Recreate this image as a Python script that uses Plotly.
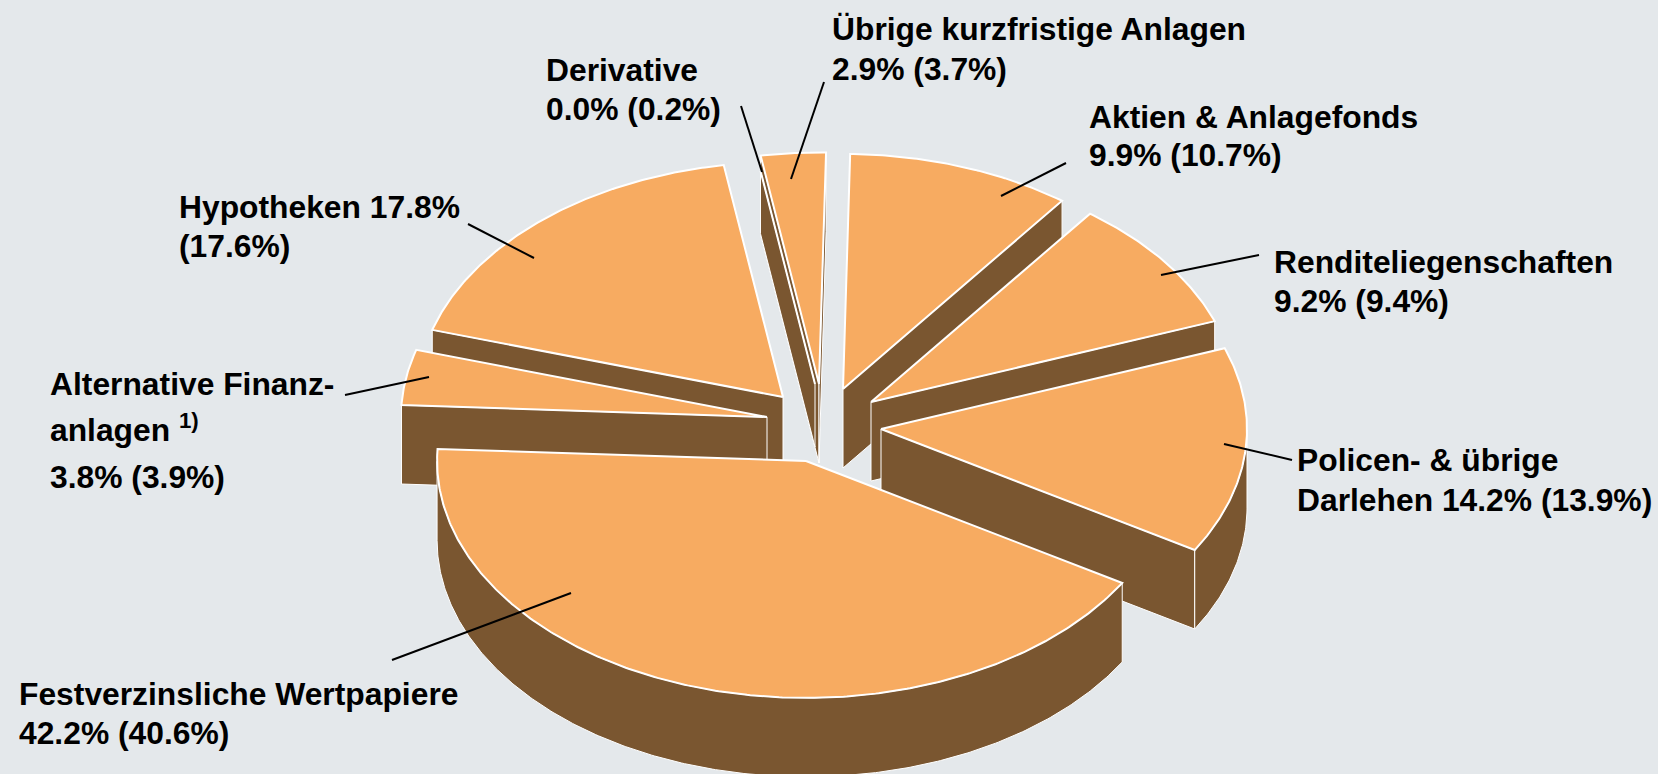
import numpy as np
import plotly.graph_objects as go

# ---- data ----
categories = ["Festverzinsliche Wertpapiere", "Alternative Finanzanlagen", "Hypotheken", "Derivative",
              "Übrige kurzfristige Anlagen", "Aktien & Anlagefonds", "Renditeliegenschaften",
              "Policen- & übrige Darlehen"]
current = [42.2, 3.8, 17.8, 0.0, 2.9, 9.9, 9.2, 14.2]
previous = [40.6, 3.9, 17.6, 0.2, 3.7, 10.7, 9.4, 13.9]

# ---- styling and geometry ----
BG, TOP, SIDE, EDGE = "#E4E8EB", "#F7AB61", "#7A5630", "#FFFFFF"
RX, RY, DEPTH, START = 366, 235, 79, 31.0
apex = {"Festverzinsliche Wertpapiere": (806, 461), "Alternative Finanzanlagen": (767, 417),
        "Hypotheken": (783, 397), "Derivative": (815, 384), "Übrige kurzfristige Anlagen": (819, 384),
        "Aktien & Anlagefonds": (843, 389), "Renditeliegenschaften": (871, 402),
        "Policen- & übrige Darlehen": (881, 429)}
radius_scale = {"Derivative": 0.92, "Übrige kurzfristige Anlagen": 0.985, "Festverzinsliche Wertpapiere": 1.008}
depth_of = {"Derivative": 63}
draw_order = ["Aktien & Anlagefonds", "Übrige kurzfristige Anlagen", "Derivative", "Hypotheken",
              "Renditeliegenschaften", "Alternative Finanzanlagen", "Policen- & übrige Darlehen",
              "Festverzinsliche Wertpapiere"]

label_layout = {
    "Übrige kurzfristige Anlagen": (830, [29, 69], ["Übrige kurzfristige Anlagen", "{v}"]),
    "Derivative": (544, [70, 109], ["Derivative", "{v}"]),
    "Aktien & Anlagefonds": (1087, [117, 155], ["Aktien & Anlagefonds", "{v}"]),
    "Hypotheken": (177, [207, 246], ["Hypotheken {c}", "({p})"]),
    "Renditeliegenschaften": (1272, [262, 301], ["Renditeliegenschaften", "{v}"]),
    "Alternative Finanzanlagen": (48, [384, 428, 477], ["Alternative Finanz-", "anlagen <sup>1)</sup>", "{v}"]),
    "Policen- & übrige Darlehen": (1295, [460, 500], ["Policen- & übrige", "Darlehen {v}"]),
    "Festverzinsliche Wertpapiere": (17, [694, 733], ["Festverzinsliche Wertpapiere", "{v}"]),
}
leaders = [((824, 82), (791, 179)), ((741, 106), (762, 172)), ((1066, 163), (1001, 196)),
           ((468, 224), (534, 258)), ((1259, 255), (1161, 275)), ((345, 395), (429, 377)),
           ((1292, 460), (1224, 444)), ((392, 660), (571, 593))]

# ---- slice angles from the values ----
angles = {}
t = START
for name, v in zip(categories, current):
    angles[name] = (t, t + v * 3.6)
    t += v * 3.6

fig = go.Figure()


def poly(xs, ys, fill, width):
    fig.add_trace(go.Scatter(x=list(xs), y=list(ys), mode="lines", fill="toself", fillcolor=fill,
                             line=dict(color=EDGE, width=width), hoverinfo="skip", showlegend=False))


for name in draw_order:
    t0, t1 = angles[name]
    cx, cy = apex[name]
    k = radius_scale.get(name, 1.0)
    d = depth_of.get(name, DEPTH)
    ts = np.radians(np.linspace(t0, t1, max(2, int(t1 - t0) * 2 + 2)))
    px = cx + RX * k * np.cos(ts)
    py = cy + RY * k * np.sin(ts)
    # radial faces turned towards the viewer
    if np.cos(ts[0]) < 0:
        poly([cx, px[0], px[0], cx, cx], [cy, py[0], py[0] + d, cy + d, cy], SIDE, 1)
    if t1 > t0 and np.cos(ts[-1]) > 0:
        poly([cx, px[-1], px[-1], cx, cx], [cy, py[-1], py[-1] + d, cy + d, cy], SIDE, 1)
    # outer rim, front half only
    front = np.sin(ts) > 0
    if front.any():
        fx, fy = px[front], py[front]
        poly(np.r_[fx, fx[::-1], fx[0]], np.r_[fy, fy[::-1] + d, fy[0]], SIDE, 1)
    # top surface
    poly(np.r_[cx, px, cx], np.r_[cy, py, cy], TOP, 2)

for (x0, y0), (x1, y1) in leaders:
    fig.add_trace(go.Scatter(x=[x0, x1], y=[y0, y1], mode="lines", line=dict(color="#000000", width=2),
                             hoverinfo="skip", showlegend=False))

annotations = []
for name, c, p in zip(categories, current, previous):
    x, ys, lines = label_layout[name]
    for y, line in zip(ys, lines):
        text = line.format(v=f"{c:.1f}% ({p:.1f}%)", c=f"{c:.1f}%", p=f"{p:.1f}%")
        annotations.append(dict(x=x, y=y, text=f"<b>{text}</b>", xanchor="left", yanchor="middle",
                                showarrow=False, xref="x", yref="y",
                                font=dict(family="Liberation Sans", size=31.8, color="#000000")))

fig.update_layout(width=1658, height=774, margin=dict(l=0, r=0, t=0, b=0), paper_bgcolor=BG, plot_bgcolor=BG,
                  xaxis=dict(range=[0, 1658], visible=False, fixedrange=True),
                  yaxis=dict(range=[774, 0], visible=False, fixedrange=True),
                  annotations=annotations, showlegend=False)
fig.write_html("out.html", config={"displayModeBar": False},
               post_script="document.body.style.margin='0';document.body.style.background='#E4E8EB';")
